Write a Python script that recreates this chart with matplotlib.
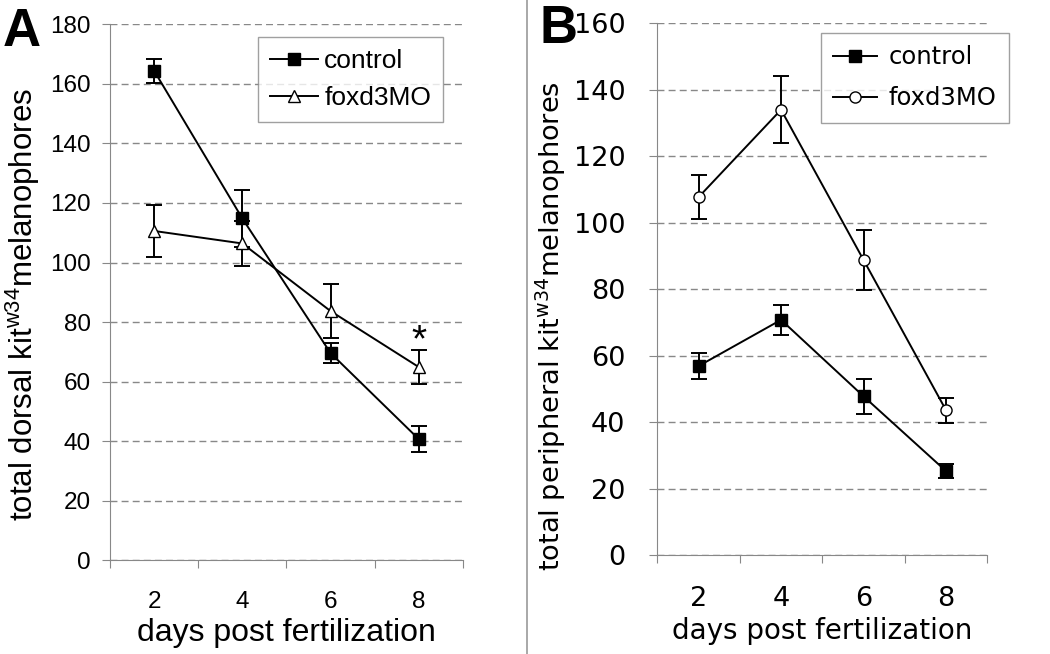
import numpy as np
import matplotlib
matplotlib.use('Agg')
import matplotlib.pyplot as plt
from matplotlib.lines import Line2D

days = ['2', '4', '6', '8']

# panel A: dorsal melanophores
a_control = [164.4, 114.8, 69.6, 40.7]
a_control_err = [4.0, 9.6, 3.5, 4.4]
a_foxd3 = [110.6, 106.4, 83.7, 64.9]
a_foxd3_err = [8.8, 7.6, 9.2, 5.6]

# panel B: peripheral melanophores
b_control = [56.9, 70.8, 47.8, 25.3]
b_control_err = [4.0, 4.5, 5.3, 2.0]
b_foxd3 = [107.7, 134.0, 88.8, 43.6]
b_foxd3_err = [6.6, 10.0, 9.1, 3.7]

fig = plt.figure(figsize=(10.5, 6.54), dpi=100)


def style_axes(ax, ymax, family, tick_fs, ypad):
    x = np.arange(1, len(days) + 1)
    ax.set_xlim(0.5, len(days) + 0.5)
    ax.set_ylim(0, ymax)
    ax.set_yticks(np.arange(0, ymax + 1, 20))
    ax.yaxis.grid(True, linestyle=(0, (5, 3)), color='#888888', linewidth=1.0)
    ax.set_axisbelow(True)
    for s in ['top', 'right']:
        ax.spines[s].set_visible(False)
    for s in ['left', 'bottom']:
        ax.spines[s].set_color('#888888')
    # boundary ticks between categories, labels centred on categories
    ax.set_xticks(np.arange(0.5, len(days) + 1, 1))
    ax.set_xticklabels([])
    ax.set_xticks(x, minor=True)
    ax.set_xticklabels(days, minor=True, family=family, fontsize=tick_fs)
    ax.tick_params(axis='x', which='major', length=6, color='#888888', direction='out')
    ax.tick_params(axis='x', which='minor', length=0, pad=22)
    ax.tick_params(axis='y', length=6, color='#888888', pad=ypad)
    for lab in ax.get_yticklabels():
        lab.set_family(family)
        lab.set_fontsize(tick_fs)
    return x


def series(ax, x, y, err, marker):
    ax.errorbar(x, y, yerr=err, color='black', marker=marker, markerfacecolor='black' if marker == 's' else 'white',
                markersize=8, linewidth=1.4, capsize=6, elinewidth=1.4, capthick=1.4)


def legend_handles(marker2):
    h1 = Line2D([], [], color='black', marker='s', markersize=8, linewidth=1.4)
    h2 = Line2D([], [], color='black', marker=marker2, markerfacecolor='white', markersize=8, linewidth=1.4)
    return [h1, h2]


# ---- A ----
axA = fig.add_axes([0.1048, 0.1433, 0.336, 0.8195])
x = style_axes(axA, 180, 'Liberation Sans', 17.5, 8)
series(axA, x, a_control, a_control_err, 's')
series(axA, x, a_foxd3, a_foxd3_err, '^')
axA.text(4, 73.5, '*', ha='center', va='center', fontsize=28, family='Liberation Sans')
axA.set_xlabel('days post fertilization', family='Liberation Sans', fontsize=23, labelpad=4)
axA.set_ylabel(r'total dorsal kit$^{\mathregular{w34}}$melanophores',
               family='Liberation Sans', fontsize=22.5)
axA.yaxis.set_label_coords(-0.193, 0.478)
legA = axA.legend(legend_handles('^'), ['control', 'foxd3MO'], loc='upper right',
                  bbox_to_anchor=(0.966, 0.991), frameon=True,
                  fancybox=False, edgecolor='#888888', prop={'family': 'Liberation Sans', 'size': 19},
                  handlelength=1.8, borderpad=0.45, labelspacing=0.5, handletextpad=0.25,
                  borderaxespad=0.3)
legA.get_frame().set_linewidth(1.0)
fig.text(0.003, 0.93, 'A', fontsize=38, fontweight='bold', family='Liberation Sans')

# ---- B ----
axB = fig.add_axes([0.626, 0.151, 0.3143, 0.8134])
x = style_axes(axB, 160, 'DejaVu Sans', 19.5, 17)
series(axB, x, b_control, b_control_err, 's')
series(axB, x, b_foxd3, b_foxd3_err, 'o')
axB.set_xlabel('days post fertilization', family='DejaVu Sans', fontsize=20, labelpad=4)
axB.set_ylabel(r'total peripheral kit$^{\mathregular{w34}}$melanophores',
               family='DejaVu Sans', fontsize=19.6)
axB.yaxis.set_label_coords(-0.271, 0.431)
legB = axB.legend(legend_handles('o'), ['control', 'foxd3MO'], loc='upper right',
                  bbox_to_anchor=(1.087, 0.995), frameon=True,
                  fancybox=False, edgecolor='#888888', prop={'family': 'DejaVu Sans', 'size': 17.5},
                  handlelength=1.8, borderpad=0.5, labelspacing=0.7, handletextpad=0.5,
                  borderaxespad=0.3)
legB.get_frame().set_linewidth(1.0)
fig.text(0.514, 0.935, 'B', fontsize=38, fontweight='bold', family='Liberation Sans')

# separator between panels
fig.add_artist(Line2D([0.502, 0.502], [0, 1], color='#999999', linewidth=1.2))

fig.savefig('out.png', dpi=100)
